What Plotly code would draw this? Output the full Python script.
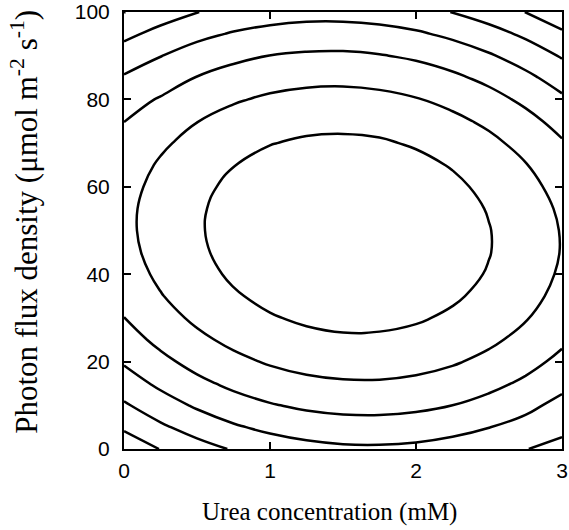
import plotly.graph_objects as go

# Urea concentration (mM) grid
urea_mM = [0.0, 0.25, 0.5, 0.75, 1.0, 1.25, 1.5, 1.75, 2.0, 2.25, 2.5, 2.75, 3.0]
# Photon flux density grid
pfd = [0, 5, 10, 15, 20, 25, 30, 35, 40, 45, 50, 55, 60, 65, 70, 75, 80, 85, 90, 95, 100]

# response values, one row per PFD value
# (columns follow urea_mM)
response = [
    [33.3, 40.3, 46.1, 50.8, 54.4, 56.9, 58.3, 58.5, 57.7, 55.8, 52.7, 50.3, 47.0],   # 0
    [41.5, 48.4, 54.1, 58.8, 62.3, 64.7, 66.0, 66.2, 65.3, 63.3, 60.2, 56.8, 52.5],   # 5
    [48.8, 55.6, 61.3, 65.9, 69.3, 71.7, 72.9, 73.1, 72.1, 70.0, 66.8, 62.5, 57.1],   # 10
    [55.3, 62.0, 67.7, 72.2, 75.6, 77.9, 79.0, 79.1, 78.1, 75.9, 72.6, 68.3, 62.8],   # 15
    [61.0, 67.6, 73.2, 77.6, 81.0, 83.2, 84.3, 84.3, 83.2, 81.0, 77.6, 73.2, 67.6],   # 20
    [65.9, 72.4, 77.9, 82.3, 85.6, 87.7, 88.8, 88.7, 87.5, 85.2, 81.8, 77.3, 71.7],   # 25
    [69.9, 76.4, 81.8, 86.1, 89.3, 91.4, 92.4, 92.2, 91.0, 88.6, 85.1, 80.6, 74.9],   # 30
    [73.1, 79.5, 84.9, 89.1, 92.2, 94.3, 95.2, 94.9, 93.7, 91.2, 87.7, 83.0, 77.3],   # 35
    [75.5, 81.8, 87.1, 91.3, 94.3, 96.3, 97.1, 96.8, 95.5, 93.0, 89.4, 84.6, 78.8],   # 40
    [77.1, 83.3, 88.5, 92.7, 95.6, 97.5, 98.3, 97.9, 96.5, 93.9, 90.3, 85.4, 79.6],   # 45
    [77.8, 84.0, 89.1, 93.2, 96.1, 97.9, 98.6, 98.2, 96.7, 94.0, 90.3, 85.4, 79.5],   # 50
    [77.7, 83.9, 88.9, 92.9, 95.7, 97.5, 98.1, 97.6, 96.1, 93.3, 89.5, 84.6, 78.6],   # 55
    [76.7, 82.9, 87.9, 91.8, 94.5, 96.2, 96.8, 96.2, 94.6, 91.8, 87.9, 82.9, 76.8],   # 60
    [75.0, 81.1, 86.0, 89.8, 92.5, 94.1, 94.6, 94.0, 92.3, 89.4, 85.5, 80.4, 74.3],   # 65
    [72.4, 78.4, 83.3, 87.0, 89.7, 91.2, 91.6, 91.0, 89.1, 86.2, 82.2, 77.1, 70.9],   # 70
    [69.9, 75.0, 79.8, 83.4, 86.0, 87.5, 87.8, 87.1, 85.2, 82.2, 78.2, 73.0, 66.7],   # 75
    [66.5, 70.7, 75.4, 79.0, 81.5, 82.9, 83.2, 82.4, 80.5, 77.4, 73.3, 68.0, 61.6],   # 80
    [60.9, 65.6, 70.3, 73.8, 76.2, 77.5, 77.8, 76.9, 74.9, 71.8, 67.6, 62.2, 55.8],   # 85
    [54.5, 59.7, 64.3, 67.7, 70.1, 71.3, 71.5, 70.5, 68.5, 65.3, 61.0, 55.6, 49.1],   # 90
    [47.6, 52.9, 57.5, 60.8, 63.1, 64.3, 64.4, 63.4, 61.3, 58.0, 53.6, 48.2, 41.6],   # 95
    [39.8, 45.3, 49.8, 53.1, 55.3, 56.5, 56.5, 55.4, 53.2, 49.8, 45.4, 39.9, 33.2],   # 100
]

# contour levels drawn
level_start, level_end, level_step = 40, 90, 10

x_ticks = [0, 1, 2, 3]
y_ticks = [0, 20, 40, 60, 80, 100]

x_title = "Urea concentration (mM)"
y_title = "Photon flux density (μmol m<sup>-2</sup> s<sup>-1</sup>)"

fig = go.Figure(
    go.Contour(
        x=urea_mM,
        y=pfd,
        z=response,
        contours=dict(start=level_start, end=level_end, size=level_step,
                      coloring="lines", showlabels=False),
        colorscale=[[0, "black"], [1, "black"]],
        line=dict(width=2.5, smoothing=1.3),
        showscale=False,
        hoverinfo="skip",
    )
)

tick_font = dict(family="Liberation Sans, Arial, sans-serif", size=21, color="black")
serif = "Liberation Serif, Times New Roman, serif"

fig.update_layout(
    width=569, height=530,
    margin=dict(l=124, r=7, t=12, b=81),
    paper_bgcolor="white", plot_bgcolor="white",
    showlegend=False,
    annotations=[
        dict(text=x_title, xref="paper", yref="paper", x=0.47, y=-0.144,
             xanchor="center", yanchor="middle", showarrow=False,
             font=dict(family=serif, size=25, color="black")),
        dict(text=y_title, xref="paper", yref="paper", x=-0.226, y=0.52,
             xanchor="center", yanchor="middle", showarrow=False, textangle=-90,
             font=dict(family=serif, size=31, color="black")),
    ],
)
fig.update_xaxes(
    range=[0, 3], tickvals=x_ticks, ticktext=[str(v) for v in x_ticks],
    ticks="inside", ticklen=7, tickwidth=1.5, tickcolor="black",
    showline=True, linewidth=2, linecolor="black", mirror="ticks",
    showgrid=False, zeroline=False, tickfont=tick_font, automargin=False,
    ticklabelstandoff=2,
)
fig.update_yaxes(
    range=[0, 100], tickvals=y_ticks, ticktext=[str(v) for v in y_ticks],
    ticks="inside", ticklen=7, tickwidth=1.5, tickcolor="black",
    showline=True, linewidth=2, linecolor="black", mirror="ticks",
    showgrid=False, zeroline=False, tickfont=tick_font, automargin=False,
    ticklabelstandoff=8,
)

fig.write_html("out.html", config={"displayModeBar": False},
               post_script="document.body.style.margin='0';")
